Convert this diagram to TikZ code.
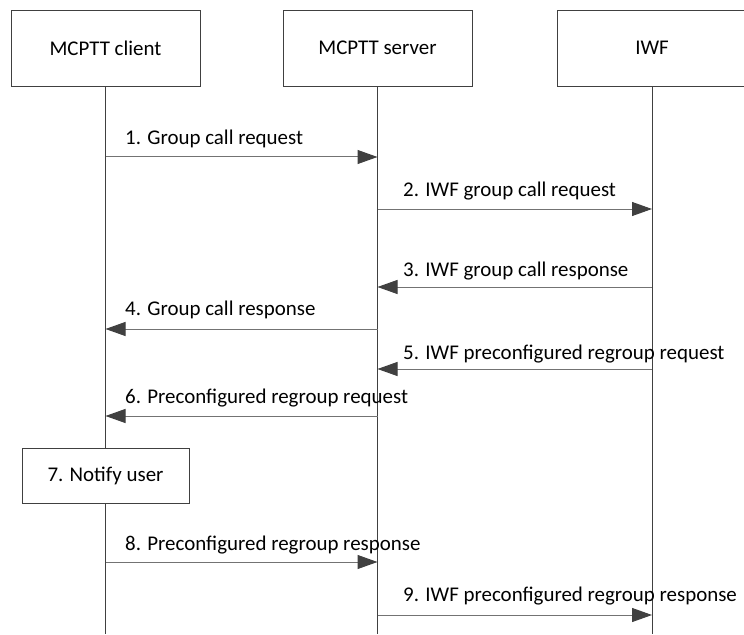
\documentclass[tikz,border=0pt]{standalone}
\usepackage{fontspec}
\setmainfont{Carlito}
\usetikzlibrary{positioning,arrows.meta}

\begin{document}
\begin{tikzpicture}[
  x=1bp, y=-1bp,
  entity/.style={draw=black!75, line width=0.9bp, fill=white, minimum width=189bp, minimum height=76bp, inner sep=0pt, font=\fontsize{21}{24}\selectfont},
  actionbox/.style={draw=black!75, line width=0.9bp, fill=white, minimum width=167bp, minimum height=55bp, inner sep=0pt, font=\fontsize{21}{24}\selectfont},
  lifeline/.style={draw=black!75, line width=0.9bp},
  msg/.style={draw=black!55, line width=1bp, -{Triangle[length=20bp, width=14bp, color=black!75]}},
  msglabel/.style={anchor=base west, inner sep=0pt, font=\fontsize{21}{24}\selectfont}
]
\useasboundingbox (0,0) rectangle (744,635);

% participants
\node[entity] (client) at (105.5,48) {MCPTT client};
\node[entity] (server) at (377.5,48) {MCPTT server};
\node[entity] (iwf) at (652,48) {IWF};

\coordinate (clientend) at (105.5,634);
\coordinate (serverend) at (377.5,634);
\coordinate (iwfend) at (652,634);

\draw[lifeline] (client) -- (clientend);
\draw[lifeline] (server) -- (serverend);
\draw[lifeline] (iwf) -- (iwfend);

% messages
\coordinate (c1) at (client |- 0,157);
\coordinate (s1) at (server |- 0,157);
\draw[msg] (c1) -- (s1);
\node[msglabel] (l1) at (125,145) {1. Group call request};

\coordinate (s2) at (server |- 0,209);
\coordinate (i2) at (iwf |- 0,209);
\draw[msg] (s2) -- (i2);
\node[msglabel] (l2) at (403,197) {2. IWF group call request};

\coordinate (i3) at (iwf |- 0,287);
\coordinate (s3) at (server |- 0,287);
\draw[msg] (i3) -- (s3);
\node[msglabel] (l3) at (403,276) {3. IWF group call response};

\coordinate (s4) at (server |- 0,329);
\coordinate (c4) at (client |- 0,329);
\draw[msg] (s4) -- (c4);
\node[msglabel] (l4) at (125,315) {4. Group call response};

\coordinate (i5) at (iwf |- 0,369);
\coordinate (s5) at (server |- 0,369);
\draw[msg] (i5) -- (s5);
\node[msglabel] (l5) at (403,359) {5. IWF preconfigured regroup request};

\coordinate (s6) at (server |- 0,416);
\coordinate (c6) at (client |- 0,416);
\draw[msg] (s6) -- (c6);
\node[msglabel] (l6) at (125,403) {6. Preconfigured regroup request};

\node[actionbox] (notify) at (105.5,475.5) {7. Notify user};

\coordinate (c8) at (client |- 0,562);
\coordinate (s8) at (server |- 0,562);
\draw[msg] (c8) -- (s8);
\node[msglabel] (l8) at (125,550) {8. Preconfigured regroup response};

\coordinate (s9) at (server |- 0,615);
\coordinate (i9) at (iwf |- 0,615);
\draw[msg] (s9) -- (i9);
\node[msglabel] (l9) at (403,601) {9. IWF preconfigured regroup response};
\end{tikzpicture}
\end{document}
